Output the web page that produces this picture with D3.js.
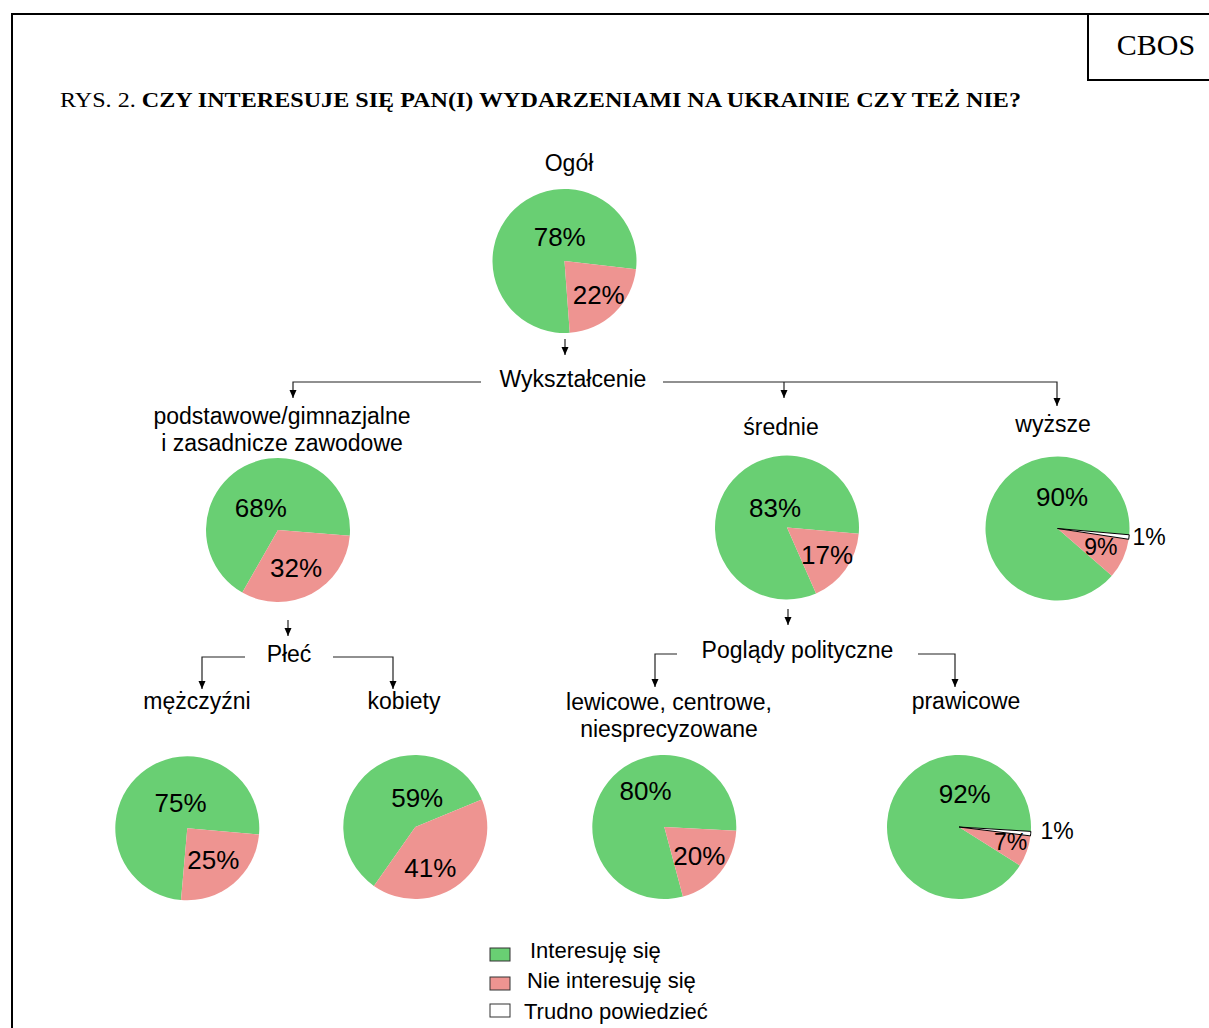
<!DOCTYPE html>
<html>
<head>
  <meta charset="utf-8">
  <title>CBOS - Rys. 2</title>
  <script src="https://d3js.org/d3.v7.min.js"></script>
  <style>
    body { margin: 0; background: #fff; }
    text { font-family: "Liberation Sans", Arial, sans-serif; fill: #000; }
    .serif { font-family: "Liberation Serif", "Times New Roman", serif; }
  </style>
</head>
<body>
<div id="output"></div>

<script type="text/javascript">

  // dane z rysunku
  var groups = ["Ogół", "podstawowe/gimnazjalne\ni zasadnicze zawodowe", "średnie", "wyższe",
                "mężczyźni", "kobiety", "lewicowe, centrowe,\nniesprecyzowane", "prawicowe"];
  var interested    = [78, 68, 83, 90, 75, 59, 80, 92];
  var notInterested = [22, 32, 17,  9, 25, 41, 20,  7];
  var hardToSay     = [ 0,  0,  0,  1,  0,  0,  0,  1];
  var answers  = ["Interesuję się", "Nie interesuję się", "Trudno powiedzieć"];
  var branches = ["Wykształcenie", "Płeć", "Poglądy polityczne"];
  var titleParts = ["RYS. 2. ", "CZY INTERESUJE SIĘ PAN(I) WYDARZENIAMI NA UKRAINIE CZY TEŻ NIE?"];

  var w = 1209;
  var h = 1028;
  var r = 72;

  var color = d3.scaleOrdinal()
          .domain(answers)
          .range(["#69cf73", "#ee9491", "#ffffff"]);

  // rozmieszczenie kół: środek, obrót (stopnie), przesunięcia etykiet, podpis
  var layout = [
    {cx: 564.5, cy: 261,   rot: 96.6, lab: [[-4.8,-15.3],[34.2,43.3]],            name: [569, 171]},
    {cx: 278,   cy: 530,   rot: 94.5, lab: [[-17.2,-13.3],[18,46.7]],             name: [282, 424]},
    {cx: 787,   cy: 527.5, rot: 95,   lab: [[-12,-10.5],[40,36.5]],               name: [781, 435]},
    {cx: 1057.5,cy: 528.5, rot: 95,   lab: [[4.5,-22.5],[43.3,26.5],[91.5,16]],   name: [1053, 432]},
    {cx: 187.3, cy: 828.3, rot: 95,   lab: [[-6.8,-16],[26,41]],                  name: [197, 709]},
    {cx: 415.3, cy: 827,   rot: 67.5, lab: [[1.9,-20.3],[15,49.7]],               name: [404, 709]},
    {cx: 664.3, cy: 827,   rot: 93,   lab: [[-18.8,-27],[35,38]],                 name: [669, 710]},
    {cx: 959,   cy: 827,   rot: 93.5, lab: [[5.7,-24.3],[51.5,23],[98.2,12.3]],   name: [966, 709]}
  ];

  var branchPos = [[573, 387], [289, 662], [797.5, 658]];

  var connectors = [
    [[565,339],[565,355]],
    [[481,382],[293,382],[293,398]],
    [[663,382],[1057,382],[1057,406]],
    [[784,382],[784,398]],
    [[288,620],[288,636]],
    [[245,657],[202,657],[202,689]],
    [[333,657],[393,657],[393,689]],
    [[788,609],[788,625]],
    [[677,654],[655,654],[655,687]],
    [[918,654],[955,654],[955,687]]
  ];

  var svg = d3.select("#output").append("svg")
          .attr("width", w)
          .attr("height", h);

  svg.append("rect").attr("width", w).attr("height", h).attr("fill", "#fff");

  // ramka i CBOS
  svg.append("path")
          .attr("d", "M12," + h + "V14H" + w)
          .attr("fill", "none").attr("stroke", "#000").attr("stroke-width", 2);
  svg.append("path")
          .attr("d", "M1088,14V80H" + w)
          .attr("fill", "none").attr("stroke", "#000").attr("stroke-width", 2);
  svg.append("text")
          .attr("class", "serif")
          .attr("x", 1156).attr("y", 55)
          .attr("text-anchor", "middle")
          .style("font-size", "30px")
          .text("CBOS");

  var title = svg.append("text")
          .attr("class", "serif")
          .attr("x", 60).attr("y", 107)
          .style("font-size", "22px")
          .attr("textLength", 961)
          .attr("lengthAdjust", "spacingAndGlyphs");
  title.append("tspan").text(titleParts[0]);
  title.append("tspan").attr("font-weight", "bold").text(titleParts[1]);

  // koła
  var arc = d3.arc().innerRadius(0).outerRadius(r);

  groups.forEach(function(g, i) {
    var L = layout[i];
    var vals = [interested[i], notInterested[i], hardToSay[i]];
    var data = answers.map(function(a, j) { return {key: a, value: vals[j]}; });
    var a0 = L.rot * Math.PI / 180;
    var pie = d3.pie().sort(null)
            .value(function(d) { return d.value; })
            .startAngle(a0)
            .endAngle(a0 - 2 * Math.PI);

    var gp = svg.append("g")
            .attr("transform", "translate(" + L.cx + "," + L.cy + ")");

    gp.selectAll(".slice")
            .data(pie(data).filter(function(d) { return d.data.value > 0; }))
            .enter()
            .append("path")
            .attr("class", "slice")
            .attr("d", arc)
            .attr("fill", function(d) { return color(d.data.key); })
            .attr("stroke", function(d) { return d.data.key === answers[2] ? "#000" : "none"; })
            .attr("stroke-width", 1);

    gp.selectAll(".lbl")
            .data(data.filter(function(d) { return d.value > 0; }))
            .enter()
            .append("text")
            .attr("class", "lbl")
            .attr("x", function(d, j) { return L.lab[j][0]; })
            .attr("y", function(d, j) { return L.lab[j][1]; })
            .attr("text-anchor", "middle")
            .style("font-size", function(d) { return d.value < 10 ? "23px" : "26px"; })
            .text(function(d) { return d.value + "%"; });

    var t = svg.append("text")
            .attr("x", L.name[0]).attr("y", L.name[1])
            .attr("text-anchor", "middle")
            .style("font-size", "23px");
    g.split("\n").forEach(function(line, k) {
      t.append("tspan").attr("x", L.name[0]).attr("dy", k ? 27 : 0).text(line);
    });
  });

  // podziały
  svg.selectAll(".branch")
          .data(branches)
          .enter()
          .append("text")
          .attr("class", "branch")
          .attr("x", function(d, i) { return branchPos[i][0]; })
          .attr("y", function(d, i) { return branchPos[i][1]; })
          .attr("text-anchor", "middle")
          .style("font-size", "23px")
          .text(function(d) { return d; });

  var line = d3.line();
  connectors.forEach(function(c) {
    svg.append("path")
            .attr("d", line(c))
            .attr("fill", "none")
            .attr("stroke", "#222")
            .attr("stroke-width", 1.2);
    var e = c[c.length - 1];
    svg.append("path")
            .attr("d", "M" + (e[0] - 3.5) + "," + (e[1] - 8) + "L" + (e[0] + 3.5) + "," + (e[1] - 8) + "L" + e[0] + "," + e[1] + "Z")
            .attr("fill", "#000");
  });

  // legenda
  var legendY = [948, 977, 1004];
  var legendTextX = [530, 527, 524];
  var legendTextY = [958, 988, 1019];

  var leg = svg.selectAll(".leg")
          .data(answers)
          .enter()
          .append("g")
          .attr("class", "leg");
  leg.append("rect")
          .attr("x", 490)
          .attr("y", function(d, i) { return legendY[i]; })
          .attr("width", 20).attr("height", 13)
          .attr("fill", function(d) { return color(d); })
          .attr("stroke", "#333").attr("stroke-width", 1);
  leg.append("text")
          .attr("x", function(d, i) { return legendTextX[i]; })
          .attr("y", function(d, i) { return legendTextY[i]; })
          .style("font-size", "22px")
          .text(function(d) { return d; });

</script>
</body>
</html>
